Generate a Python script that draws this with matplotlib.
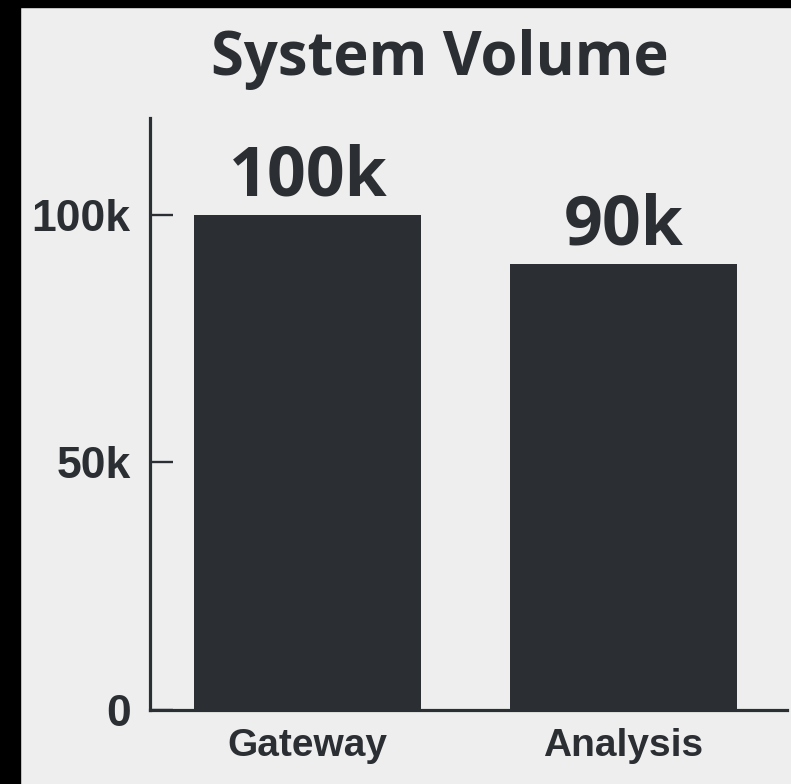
import matplotlib
matplotlib.use("Agg")
import matplotlib.pyplot as plt
from matplotlib.patches import Rectangle

categories = ["Gateway", "Analysis"]
values = [100000, 90000]
value_labels = ["100k", "90k"]
yticks = [0, 50000, 100000]
ytick_labels = ["0", "50k", "100k"]

bg = "#eeeeee"
dark = "#2b2e32"

fig = plt.figure(figsize=(7.91, 7.84), dpi=100, facecolor=bg)
ax = fig.add_axes([0.1896, 0.0944, 0.9950 - 0.1896, 0.8495 - 0.0944])
ax.set_facecolor(bg)

x = list(range(len(categories)))
ax.bar(x, values, width=0.72, color=dark, zorder=2)

for xi, v, lab in zip(x, values, value_labels):
    ax.annotate(lab, xy=(xi, v), xytext=(0, 14), textcoords="offset points",
                ha="center", va="baseline", fontsize=49, fontweight="bold",
                family="Open Sans", color=dark)

ax.set_xlim(-0.50, 1.518)
ax.set_ylim(0, 119500)
ax.set_yticks(yticks)
ax.set_yticklabels(ytick_labels)
ax.set_xticks(x)
ax.set_xticklabels(categories)

for s in ["top", "right"]:
    ax.spines[s].set_visible(False)
for s in ["left", "bottom"]:
    ax.spines[s].set_linewidth(2.3)
    ax.spines[s].set_color(dark)

ax.tick_params(axis="y", direction="in", length=16.5, width=1.7, color=dark, pad=14)
ax.tick_params(axis="x", length=0, pad=13)
for lbl in ax.get_yticklabels() + ax.get_xticklabels():
    lbl.set_fontfamily("Liberation Sans")
    lbl.set_fontweight("bold")
    lbl.set_color(dark)
for lbl in ax.get_yticklabels():
    lbl.set_fontsize(32)
for lbl in ax.get_xticklabels():
    lbl.set_fontsize(28)

fig.text(0.556, 1 - 75 / 784, "System Volume", ha="center", va="baseline",
         fontsize=43, fontweight="bold", family="Open Sans", color=dark)

# black frame strips on left and top edges
fig.patches.append(Rectangle((0, 0), 20 / 791, 1, transform=fig.transFigure,
                             color="black", zorder=10))
fig.patches.append(Rectangle((0, 1 - 7 / 784), 1, 7 / 784, transform=fig.transFigure,
                             color="black", zorder=10))

fig.savefig("out.png", dpi=100, facecolor=bg)
